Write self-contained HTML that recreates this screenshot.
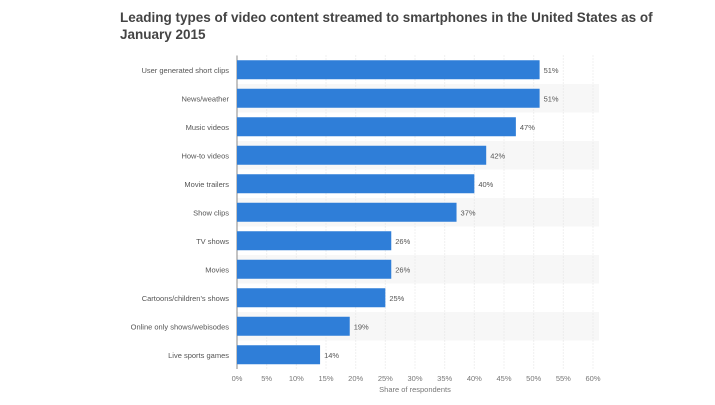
<!DOCTYPE html>
<html><head><meta charset="utf-8"><style>
body{margin:0;background:#fff;font-family:"Liberation Sans",sans-serif}
svg text{font-family:"Liberation Sans",sans-serif}
</style></head><body>
<svg width="715" height="400">
<text x="120" y="22" font-size="13.5" font-weight="bold" fill="#444">Leading types of video content streamed to smartphones in the United States as of</text>
<text x="120" y="39" font-size="13.5" font-weight="bold" fill="#444">January 2015</text>
<g id="plot"></g>
</svg>
<script>
const categories=["User generated short clips","News/weather","Music videos","How-to videos","Movie trailers","Show clips","TV shows","Movies","Cartoons/children's shows","Online only shows/webisodes","Live sports games"];
const values=[51,51,47,42,40,37,26,26,25,19,14];
const ticks=[0,5,10,15,20,25,30,35,40,45,50,55,60];
const NS="http://www.w3.org/2000/svg";
const g=document.getElementById('plot');
const x0=237,x1=593,xmax=60,top0=55.5,step=28.5,bh=19;
const xs=v=>x0+(v/xmax)*(x1-x0);
const yc=i=>top0+step*i+step/2;
function mk(t,a){const e=document.createElementNS(NS,t);for(const k in a)e.setAttribute(k,a[k]);g.appendChild(e);return e;}
categories.forEach((c,i)=>{if(i%2==1){const r=mk('rect',{x:x0,y:top0+step*i,width:x1-x0+6,height:step,fill:'#f7f7f7'});

}});
ticks.forEach(t=>{const l=mk('line',{x1:xs(t),x2:xs(t),y1:top0,y2:top0+step*categories.length,stroke:'#e2e2e2','stroke-dasharray':'1,2'});


const tx=mk('text',{x:xs(t),y:381,'font-size':'7.5',fill:'#777','text-anchor':'middle'});tx.textContent=t+'%';

});
const ax=mk('line',{x1:x0,x2:x0,y1:top0,y2:top0+step*categories.length,stroke:'#888','stroke-width':1});


categories.forEach((c,i)=>{const y=yc(i);
const b=mk('rect',{x:x0,y:y-bh/2,width:xs(values[i])-x0,height:bh,fill:'#2f7ed8'});


const l=mk('text',{x:229,y:y+3,'font-size':'7.5',fill:'#555','text-anchor':'end'});l.textContent=c;


const v=mk('text',{x:xs(values[i])+4,y:y+3,'font-size':'7.5',fill:'#555'});v.textContent=values[i]+'%';

});
const at=mk('text',{x:(x0+x1)/2,y:392,'font-size':'7.5',fill:'#777','text-anchor':'middle'});at.textContent='Share of respondents';


</script>
</body></html>
